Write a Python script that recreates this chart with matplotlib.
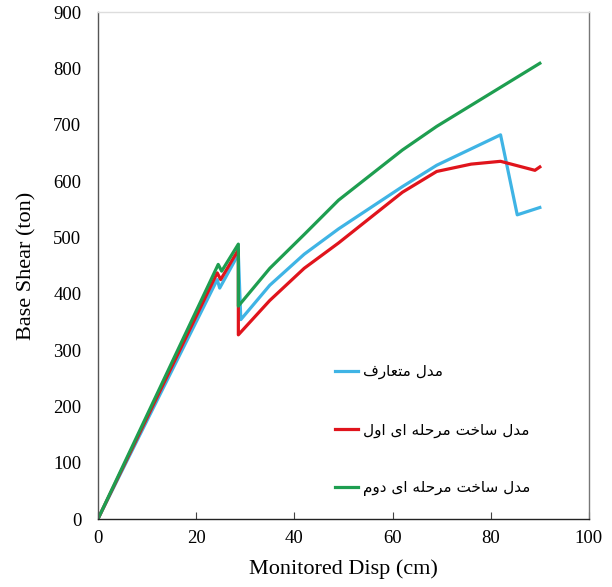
import matplotlib.pyplot as plt

disp_blue = [0, 24.3, 24.8, 28.6, 29.1, 35, 42, 49, 62, 69, 82, 85.4, 90]
shear_blue = [0, 425, 410, 470, 354, 415, 470, 515, 590, 628, 682, 540, 553]

disp_red = [0, 24.3, 25.0, 28.6, 28.6, 35, 42, 49, 62, 69, 76, 82, 89, 90]
shear_red = [0, 437, 425, 478, 327, 388, 445, 490, 580, 617, 630, 635, 619, 625]

disp_green = [0, 24.5, 25.2, 28.6, 28.6, 35, 42, 49, 62, 69, 90]
shear_green = [0, 452, 440, 488, 378, 445, 505, 566, 655, 697, 809]

labels = ["مدل متعارف", "مدل ساخت مرحله ای اول", "مدل ساخت مرحله ای دوم"]

x_ticks = [0, 20, 40, 60, 80, 100]
y_ticks = [0, 100, 200, 300, 400, 500, 600, 700, 800, 900]

# matplotlib has no arabic shaping, so pick presentation forms by hand
# char: (isolated, final, initial, medial) ; None for initial/medial = right-joining only
FORMS = {
    'ا': ('\uFE8D', '\uFE8E', None, None),
    'د': ('\uFEA9', '\uFEAA', None, None),
    'ر': ('\uFEAD', '\uFEAE', None, None),
    'و': ('\uFEED', '\uFEEE', None, None),
    'ل': ('\uFEDD', '\uFEDE', '\uFEDF', '\uFEE0'),
    'م': ('\uFEE1', '\uFEE2', '\uFEE3', '\uFEE4'),
    'ت': ('\uFE95', '\uFE96', '\uFE97', '\uFE98'),
    'ع': ('\uFEC9', '\uFECA', '\uFECB', '\uFECC'),
    'ف': ('\uFED1', '\uFED2', '\uFED3', '\uFED4'),
    'س': ('\uFEB1', '\uFEB2', '\uFEB3', '\uFEB4'),
    'خ': ('\uFEA5', '\uFEA6', '\uFEA7', '\uFEA8'),
    'ح': ('\uFEA1', '\uFEA2', '\uFEA3', '\uFEA4'),
    'ه': ('\uFEE9', '\uFEEA', '\uFEEB', '\uFEEC'),
    'ی': ('\uFEEF', '\uFEF0', '\uFEF3', '\uFEF4'),
}


def shape(text):
    out = []
    chars = list(text)
    for i, c in enumerate(chars):
        if c not in FORMS:
            out.append(c)
            continue
        iso, fin, ini, med = FORMS[c]
        prev = chars[i - 1] if i > 0 else None
        nxt = chars[i + 1] if i < len(chars) - 1 else None
        join_prev = prev in FORMS and FORMS[prev][2] is not None
        join_next = nxt in FORMS and ini is not None
        if join_prev and join_next:
            out.append(med)
        elif join_prev:
            out.append(fin)
        elif join_next:
            out.append(ini)
        else:
            out.append(iso)
    return ''.join(out)[::-1]


fig = plt.figure(figsize=(6.12, 5.87), dpi=100)
ax = fig.add_axes([0.160, 0.1158, 0.8023, 0.8637])

ax.plot(disp_blue, shear_blue, color='#3FB4E5', lw=2.3, label=shape(labels[0]))
ax.plot(disp_red, shear_red, color='#E0141C', lw=2.3, label=shape(labels[1]))
ax.plot(disp_green, shear_green, color='#1E9E50', lw=2.3, label=shape(labels[2]))

ax.set_xlim(0, 100)
ax.set_ylim(0, 900)
ax.set_xticks(x_ticks)
ax.set_yticks(y_ticks)

serif = 'Liberation Serif'
ax.set_xticklabels([str(v) for v in x_ticks], fontfamily=serif, fontsize=13.5)
ax.set_yticklabels([str(v) for v in y_ticks], fontfamily=serif, fontsize=13.5)
ax.tick_params(axis='x', direction='in', length=5, width=0.8, pad=8, color='#444444')
ax.tick_params(axis='y', length=0, pad=12)

ax.set_xlabel('Monitored Disp (cm)', fontfamily=serif, fontsize=16, labelpad=9)
ax.set_ylabel('Base Shear (ton)', fontfamily=serif, fontsize=16, labelpad=12)

ax.spines['left'].set_color('#555555')
ax.spines['bottom'].set_color('#222222')
ax.spines['right'].set_color('#777777')
ax.spines['top'].set_color('#dddddd')
for s in ax.spines.values():
    s.set_linewidth(1.0)

leg = ax.legend(loc='center left', bbox_to_anchor=(0.535, 0.267),
                bbox_transform=fig.transFigure, frameon=False,
                prop={'family': 'DejaVu Sans', 'size': 11},
                handlelength=1.5, handletextpad=0.3, labelspacing=2.8,
                borderpad=0)

fig.savefig('out.png', dpi=100)
